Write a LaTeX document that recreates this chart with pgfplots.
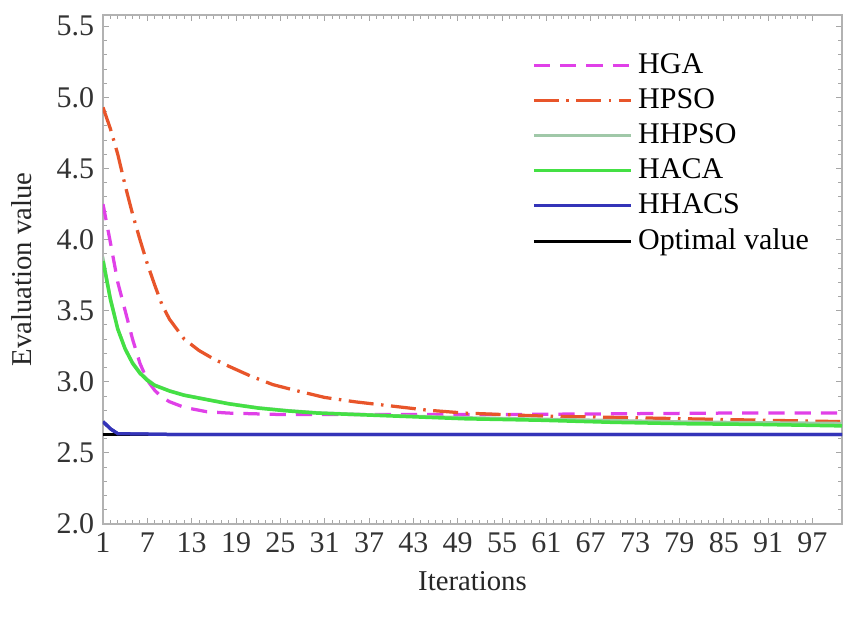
\documentclass[border=0pt]{standalone}
\usepackage{fontspec}
\setmainfont{Liberation Serif}
\usepackage{pgfplots}
\pgfplotsset{compat=1.18}

\definecolor{hgaC}{HTML}{E040E8}
\definecolor{hpsoC}{HTML}{E8552A}
\definecolor{hhpsoC}{HTML}{A0C8A8}
\definecolor{hacaC}{HTML}{44E044}
\definecolor{hhacsC}{HTML}{3434B8}

\begin{document}
\begin{tikzpicture}
\begin{axis}[
    scale only axis,
    width=295.6pt, height=203.6pt,
    xmin=1, xmax=101,
    ymin=2, ymax=5.58,
    xtick={1,7,...,97},
    minor x tick num=5,
    ytick={2,2.5,...,5.5},
    minor y tick num=4,
    tick align=inside,
    major tick length=2.5pt,
    minor tick length=1.5pt,
    tick style={gray!70, line width=0.4pt},
    axis line style={gray!60, line width=0.8pt},
    yticklabel style={/pgf/number format/.cd, fixed, fixed zerofill, precision=1},
    /pgf/number format/assume math mode=true,
    tick label style={font=\fontsize{12}{14}\selectfont, text=black!80},
    label style={font=\fontsize{11.5}{14}\selectfont, text=black!85},
    xlabel={Iterations},
    ylabel={Evaluation value},
    xlabel style={at={(axis description cs:0.5,-0.112)}, anchor=center},
    ylabel style={at={(axis description cs:-0.11,0.5)}, anchor=center},
    legend cell align=left,
    legend style={
      at={(0.57,0.945)}, anchor=north west,
      draw=none, fill=none,
      font=\fontsize{12}{14}\selectfont,
      row sep=0.6pt,
    },
    legend image code/.code={
      \draw[#1] (0pt,0pt) -- (39pt,0pt);
    },
]
% HGA
\addplot[hgaC, line width=1.3pt, dash pattern=on 6.5pt off 4pt] coordinates {
(1,4.25) (2,3.98) (3,3.70) (4,3.50) (5,3.30) (6,3.13) (7,3.01) (8,2.94)
(9,2.89) (10,2.86) (12,2.82) (15,2.79) (18,2.78) (25,2.77) (40,2.77)
(55,2.77) (70,2.775) (85,2.78) (101,2.78)};
\addlegendentry{HGA}
% HPSO
\addplot[hpsoC, line width=1.3pt, dash pattern=on 10pt off 3pt on 1pt off 3pt] coordinates {
(1,4.93) (2,4.78) (3,4.60) (4,4.38) (5,4.18) (6,4.00) (7,3.83) (8,3.68)
(9,3.54) (10,3.44) (12,3.30) (14,3.22) (16,3.16) (18,3.11) (21,3.04)
(24,2.98) (27,2.94) (31,2.89) (35,2.86) (40,2.83) (45,2.80) (50,2.78)
(55,2.77) (60,2.76) (70,2.75) (80,2.74) (90,2.73) (101,2.72)};
\addlegendentry{HPSO}
% HHPSO
\addplot[hhpsoC, line width=1pt] coordinates {
(1,3.88) (2,3.60) (3,3.38) (4,3.24) (5,3.14) (6,3.07) (7,3.02) (8,2.98)
(10,2.94) (12,2.91) (15,2.88) (18,2.85) (22,2.82) (26,2.80) (30,2.785)
(35,2.775) (40,2.765) (50,2.75) (60,2.74) (70,2.73) (80,2.72) (90,2.715) (101,2.71)};
\addlegendentry{HHPSO}
% HACA
\addplot[hacaC, line width=1.4pt] coordinates {
(1,3.85) (2,3.58) (3,3.37) (4,3.23) (5,3.13) (6,3.06) (7,3.01) (8,2.975)
(10,2.935) (12,2.905) (15,2.875) (18,2.845) (22,2.815) (26,2.795) (30,2.78)
(35,2.77) (40,2.76) (50,2.74) (60,2.73) (70,2.715) (80,2.705) (90,2.70) (101,2.69)};
\addlegendentry{HACA}
% HHACS
\addplot[hhacsC, line width=1.3pt] coordinates {
(1,2.72) (2,2.67) (3,2.635) (10,2.63) (30,2.63) (60,2.63) (101,2.63)};
\addlegendentry{HHACS}
% Optimal value
\addplot[black, line width=1pt, forget plot] coordinates {(1,2.63) (101,2.63)};
\addlegendimage{black, line width=1.2pt}
\addlegendentry{Optimal value}
\addplot[hhacsC, line width=1.3pt, forget plot] coordinates {
(1,2.72) (2,2.67) (3,2.635) (10,2.63) (30,2.63) (60,2.63) (101,2.63)};
\end{axis}
\path ([shift={(-41.2pt,-41.2pt)}]current axis.south west) rectangle ([shift={(1.2pt,6pt)}]current axis.north east);
\end{tikzpicture}
\end{document}
